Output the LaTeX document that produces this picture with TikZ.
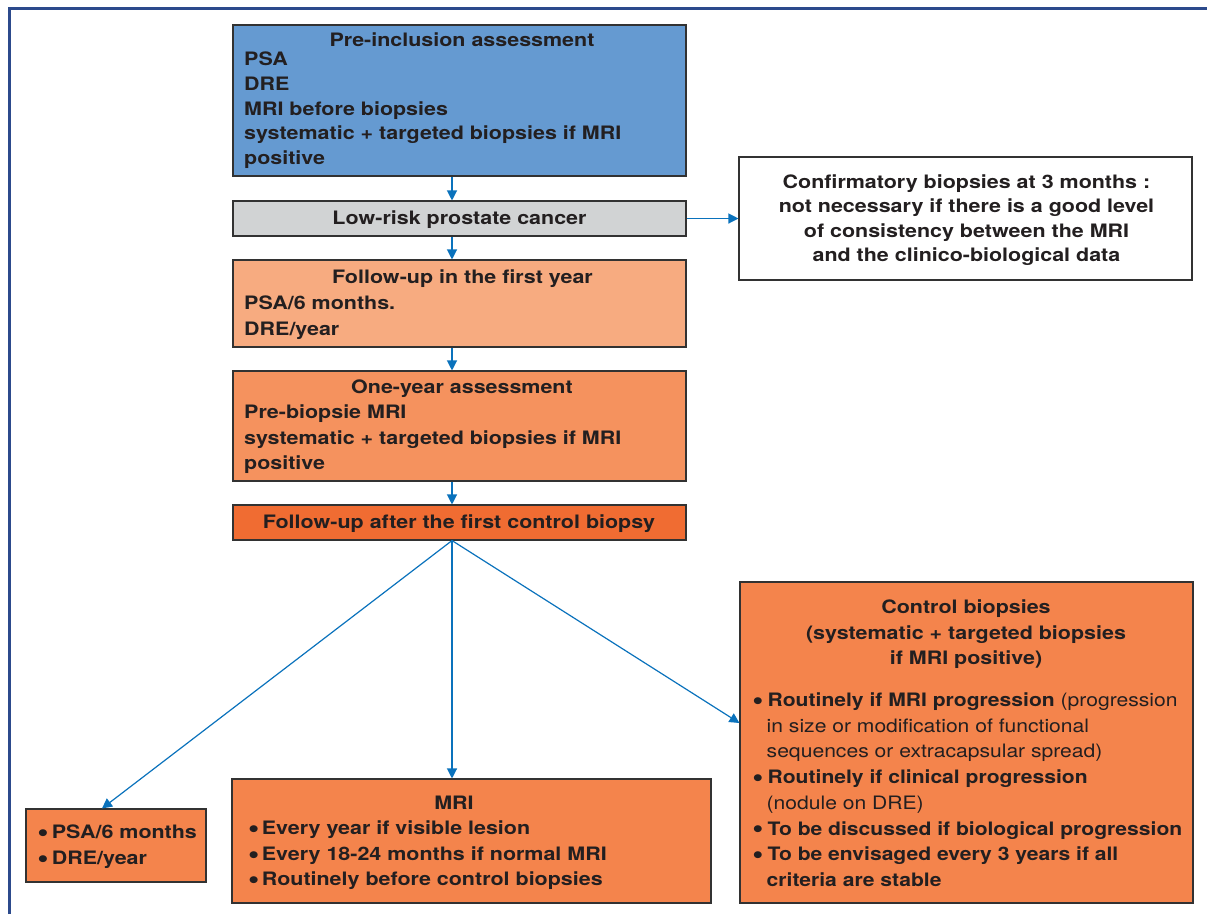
\documentclass[tikz,border=0pt]{standalone}
\usepackage{fontspec}
\setmainfont{TeX Gyre Heros}[FakeStretch=1.16]
\newfontfamily\ctrlfont{TeX Gyre Heros}[FakeStretch=1.14]
\usetikzlibrary{arrows.meta}
\definecolor{framec}{RGB}{44,74,140}
\definecolor{boxline}{RGB}{50,50,50}
\definecolor{txt}{RGB}{35,31,32}
\definecolor{arrc}{RGB}{10,114,188}
\definecolor{cblue}{RGB}{101,154,209}
\definecolor{cgray}{RGB}{209,211,212}
\definecolor{corA}{RGB}{247,171,128}
\definecolor{corB}{RGB}{245,146,94}
\definecolor{corC}{RGB}{240,108,50}
\definecolor{corD}{RGB}{244,132,76}
\tikzset{
  box/.style={draw=boxline, line width=1.1pt, inner sep=0pt},
  txtnode/.style={inner sep=0pt, text=txt, font=\fontsize{18.5}{25.5}\selectfont\bfseries},
  arr/.style={draw=arrc, line width=1.2pt, -{Triangle[length=10pt,width=10pt]}},
}
\newcommand{\bigbul}{\hspace*{-2.8pt}\raisebox{-0.16em}{\scalebox{1.5}{\textbullet}}}
\newcommand{\bul}{\makebox[12.5pt][l]{\bigbul}}
\newcommand{\ind}{\hspace*{11.5pt}}
\begin{document}
\begin{tikzpicture}[x=1pt,y=-1pt]
\useasboundingbox (0,0) rectangle (1207,914);
% frame
\draw[framec, line width=2.6pt] (9.5,914) -- (9.5,8.5) -- (1207,8.5);

% boxes
\node[box, fill=cblue, minimum width=453pt, minimum height=151pt] (pre) at (459.5,100.5) {};
\node[box, fill=cgray, minimum width=453pt, minimum height=35pt] (low) at (459.5,218.5) {};
\node[box, fill=corA, minimum width=453pt, minimum height=87pt] (fu1) at (459.5,303.5) {};
\node[box, fill=corB, minimum width=453pt, minimum height=110pt] (one) at (459.5,426) {};
\node[box, fill=corC, minimum width=453pt, minimum height=35pt] (fua) at (459.5,522.5) {};
\node[box, fill=white, minimum width=453pt, minimum height=123pt] (conf) at (965.5,218.5) {};
\node[box, fill=corD, minimum width=453pt, minimum height=321pt] (ctrl) at (966.5,742.5) {};
\node[box, fill=corD, minimum width=479pt, minimum height=124pt] (mri) at (471.5,841) {};
\node[box, fill=corD, minimum width=180pt, minimum height=73pt] (psa) at (116,845.5) {};

% texts (multi-line nodes: base = last line)
\node[txtnode, anchor=base] (preT) at (462,46.5) {Pre-inclusion assessment};
\node[txtnode, anchor=base west, align=left, font=\fontsize{18.5}{24.8}\selectfont\bfseries] (preL) at (244,164.7)
  {PSA\\DRE\\MRI before biopsies\\systematic + targeted biopsies if MRI\\positive};
\node[txtnode, anchor=base] (lowT) at (459.5,224.5) {Low-risk prostate cancer};
\node[txtnode, anchor=base] (fu1T) at (462.5,283.2) {Follow-up in the first year};
\node[txtnode, anchor=base west, align=left, font=\fontsize{18.5}{26.3}\selectfont\bfseries] (fu1L) at (244,335.5)
  {PSA/6 months.\\DRE/year};
\node[txtnode, anchor=base] (oneT) at (462,393.2) {One-year assessment};
\node[txtnode, anchor=base west, align=left] (oneL) at (244,469.8)
  {Pre-biopsie MRI\\systematic + targeted biopsies if MRI\\positive};
\node[txtnode, anchor=base] (fuaT) at (459,528.2) {Follow-up after the first control biopsy};
\node[txtnode, anchor=base, align=center, font=\fontsize{18.5}{24.5}\selectfont\bfseries] (confT) at (966.5,261.7)
  {Confirmatory biopsies at 3 months :\\not necessary if there is a good level\\of consistency between the MRI\\and the clinico-biological data};
\node[txtnode, anchor=base, align=center, font=\fontsize{18.5}{25.8}\selectfont\bfseries] (ctrlT) at (966,664.8)
  {Control biopsies\\(systematic + targeted biopsies\\if MRI positive)};
\node[txtnode, anchor=base west, align=left, font=\ctrlfont\fontsize{18.5}{25.7}\selectfont\bfseries] (ctrlL) at (755,886.4)
  {\bul Routinely if MRI progression {\mdseries (progression}\\
   \ind{\mdseries in size or modification of functional}\\
   \ind{\mdseries sequences or extracapsular spread)}\\
   \bul Routinely if clinical progression\\
   \ind{\mdseries (nodule on DRE)}\\
   \bul To be discussed if biological progression\\
   \bul To be envisaged every 3 years if all\\
   \ind criteria are stable};
\node[txtnode, anchor=base] (mriT) at (454,809.8) {MRI};
\node[txtnode, anchor=base west, align=left] (mriL) at (250.7,885.8)
  {\makebox[11pt][l]{\bigbul}Every year if visible lesion\\
   \makebox[11pt][l]{\bigbul}Every 18-24 months if normal MRI\\
   \makebox[11pt][l]{\bigbul}Routinely before control biopsies};
\node[txtnode, anchor=base west, align=left, font=\fontsize{18.5}{26}\selectfont\bfseries] (psaL) at (40,864.8)
  {\makebox[11.7pt][l]{\bigbul}PSA/6 months\\
   \makebox[11.7pt][l]{\bigbul}DRE/year};

% connectors
\draw[arr] ([xshift=-7.5pt]pre.south) -- ([xshift=-7.5pt]low.north);
\draw[arr] ([xshift=-7.5pt]low.south) -- ([xshift=-7.5pt]fu1.north);
\draw[arr] ([xshift=-7.5pt]fu1.south) -- ([xshift=-7.5pt]one.north);
\draw[arr] ([xshift=-7.5pt]one.south) -- ([xshift=-7.5pt]fua.north);
\draw[arr] (low.east) -- (conf.west);
\draw[arr] ([xshift=-7.5pt]fua.south) -- ([xshift=-14pt]psa.north);
\draw[arr] ([xshift=-7.5pt]fua.south) -- ([xshift=-19.5pt]mri.north);
\draw[arr] ([xshift=-7.5pt]fua.south) -- ([yshift=19.5pt]ctrl.west);
\end{tikzpicture}
\end{document}
